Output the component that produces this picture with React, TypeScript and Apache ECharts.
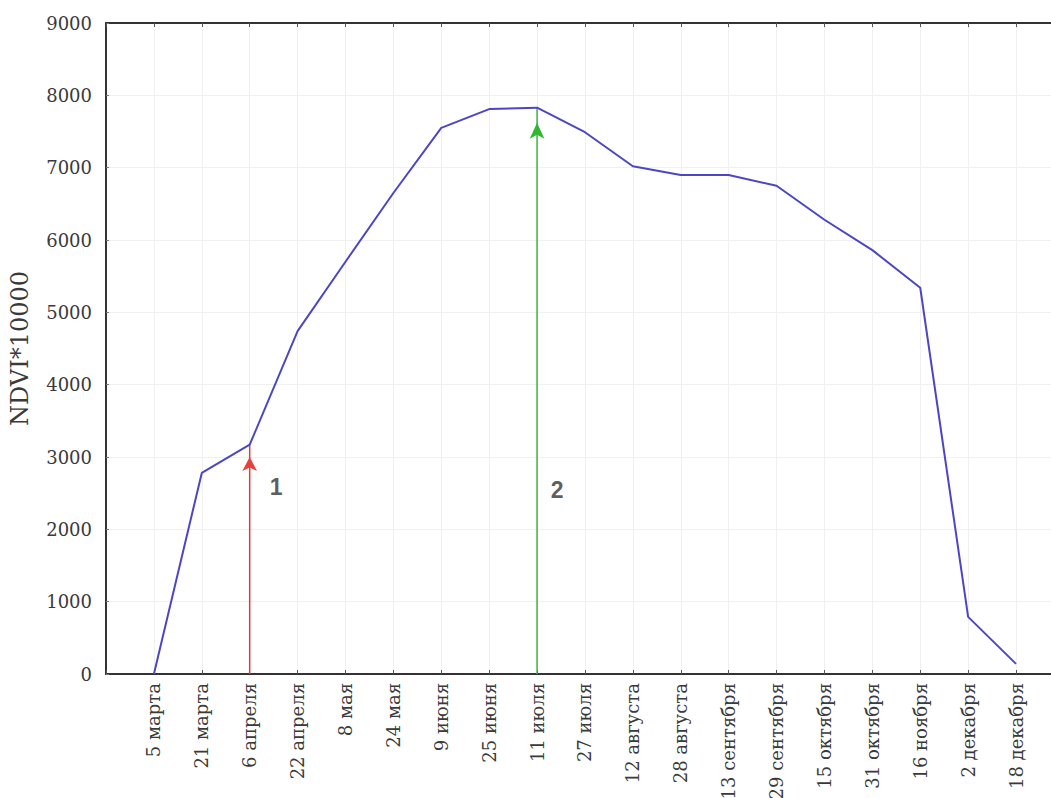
import React, { useEffect, useRef } from "react";
import * as echarts from "echarts";

const categories = [
  "5 марта", "21 марта", "6 апреля", "22 апреля", "8 мая", "24 мая",
  "9 июня", "25 июня", "11 июля", "27 июля", "12 августа", "28 августа",
  "13 сентября", "29 сентября", "15 октября", "31 октября", "16 ноября",
  "2 декабря", "18 декабря",
];
const ndviValues = [
  0, 2780, 3170, 4740, 5700, 6650, 7550, 7810, 7830, 7490, 7020, 6900,
  6900, 6750, 6280, 5860, 5340, 790, 140,
];
// marker 1: start of season (6 апреля), marker 2: peak (11 июля)
const marker1 = { index: 2, top: 3170, arrow: 3000, label: "1", labelX: 2.55, labelY: 2590 };
const marker2 = { index: 8, top: 7830, arrow: 7620, label: "2", labelX: 8.42, labelY: 2545 };
const yTicks = { min: 0, max: 9000, interval: 1000 };
const yTitle = "NDVI*10000";

const SERIF = "'DejaVu Serif', 'Liberation Serif', serif";

export default function App() {
  const ref = useRef<HTMLDivElement>(null);
  useEffect(() => {
    if (!ref.current) return;
    const chart = echarts.init(ref.current, null, { renderer: "svg" });
    const fmt = (v: number) =>
      Number.isInteger(v) && v >= 0 && v < categories.length ? categories[v] : "";
    const xBase = {
      type: "value" as const,
      min: -1,
      max: 18.73,
      interval: 1,
    };
    chart.setOption({
      animation: false,
      backgroundColor: "#ffffff",
      grid: {
        left: 106,
        right: 0,
        top: 23,
        bottom: 124,
        containLabel: false,
        outerBoundsMode: "none",
      },
      xAxis: [
        {
          ...xBase,
          position: "bottom",
          axisLine: { onZero: false, lineStyle: { color: "#333", width: 2 } },
          axisTick: { show: true, inside: true, length: 4, lineStyle: { color: "#555" } },
          splitLine: { show: true, lineStyle: { color: "#f0f0f0", width: 1 } },
          axisLabel: {
            rotate: 90,
            margin: 9,
            fontFamily: SERIF,
            fontSize: 18,
            color: "#3a3a3a",
            formatter: fmt,
            showMinLabel: true,
            showMaxLabel: false,
          },
        },
        {
          ...xBase,
          position: "top",
          axisLine: { show: true, onZero: false, lineStyle: { color: "#333", width: 2 } },
          axisTick: { show: true, inside: true, length: 4, lineStyle: { color: "#555" } },
          splitLine: { show: false },
          axisLabel: { show: false },
        },
      ],
      yAxis: {
        type: "value",
        min: yTicks.min,
        max: yTicks.max,
        interval: yTicks.interval,
        name: yTitle,
        nameLocation: "middle",
        nameRotate: 90,
        nameGap: 74,
        nameTextStyle: { fontFamily: SERIF, fontSize: 24, color: "#3a3a3a" },
        axisLine: { show: true, onZero: false, lineStyle: { color: "#333", width: 2 } },
        axisTick: { show: true, inside: true, length: 3, lineStyle: { color: "#777" } },
        splitLine: { show: true, lineStyle: { color: "#f0f0f0", width: 1 } },
        axisLabel: {
          margin: 14,
          fontFamily: SERIF,
          fontSize: 18,
          color: "#3a3a3a",
          formatter: (v: number) => String(v),
        },
      },
      series: [
        {
          type: "line",
          data: [[marker1.index, 0], [marker1.index, marker1.top]],
          symbol: "none",
          lineStyle: { color: "#e03a3a", width: 1.5 },
          markPoint: {
            symbol: "arrow",
            symbolSize: [11, 14],
            itemStyle: { color: "#e8403c" },
            label: { show: false },
            data: [{ coord: [marker1.index, marker1.arrow] }],
          },
          z: 3,
        },
        {
          type: "line",
          data: [[marker2.index, 0], [marker2.index, marker2.top]],
          symbol: "none",
          lineStyle: { color: "#3cb43c", width: 1.5 },
          markPoint: {
            symbol: "arrow",
            symbolSize: [11, 16],
            itemStyle: { color: "#2eb82e" },
            label: { show: false },
            data: [{ coord: [marker2.index, marker2.arrow] }],
          },
          z: 3,
        },
        {
          type: "line",
          data: ndviValues.map((v, i) => [i, v]),
          symbol: "none",
          lineStyle: { color: "#4c46c4", width: 2 },
          z: 4,
        },
        {
          type: "scatter",
          symbolSize: 0,
          data: [
            { value: [marker1.labelX, marker1.labelY], name: marker1.label },
            { value: [marker2.labelX, marker2.labelY], name: marker2.label },
          ],
          label: {
            show: true,
            position: "inside",
            formatter: (p: any) => p.name,
            fontFamily: "'Liberation Sans', Arial, sans-serif",
            fontSize: 23,
            fontWeight: "bold",
            color: "#333",
          },
          z: 5,
        },
      ],
    });
    return () => chart.dispose();
  }, []);
  return (
    <div
      ref={ref}
      style={{ position: "absolute", left: 0, top: 0, width: 1051, height: 798 }}
    />
  );
}
